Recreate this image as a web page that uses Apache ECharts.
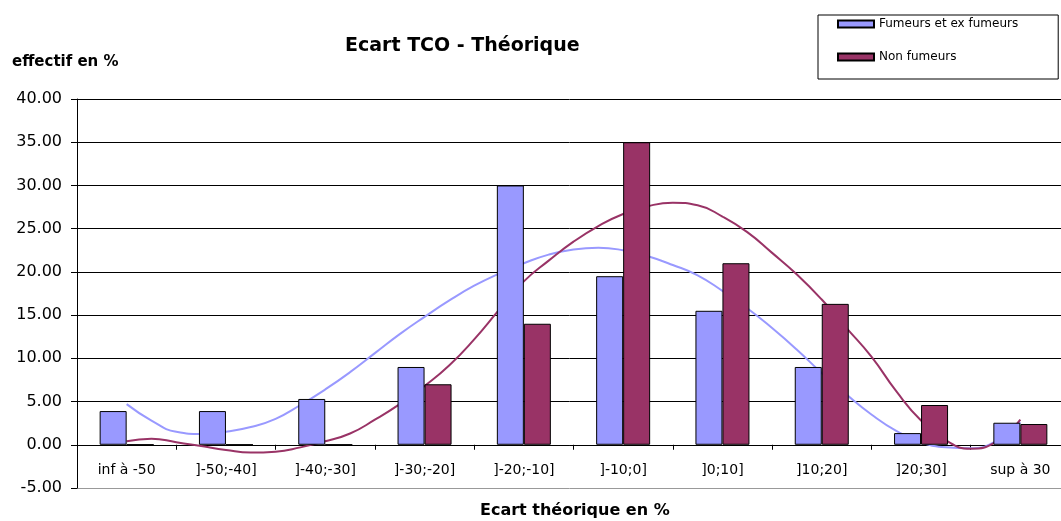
<!DOCTYPE html>
<html>
<head>
<meta charset="utf-8">
<script src="https://cdn.jsdelivr.net/npm/echarts@6/dist/echarts.min.js"></script>
<style>
  html, body { margin: 0; padding: 0; background: #fff; }
  #chart { width: 1061px; height: 521px; }
</style>
</head>
<body>
<div id="chart"></div>
<script>
// classes d'écart
const categories = ['inf à -50', ']-50;-40]', ']-40;-30]', ']-30;-20]', ']-20;-10]', ']-10;0]', ']0;10]', ']10;20]', ']20;30]', 'sup à 30'];
const fumeurs = [3.9, 3.9, 5.3, 9.0, 30.0, 19.5, 15.5, 9.0, 1.35, 2.55];
const nonFumeurs = [0, 0, 0, 7.0, 14.0, 35.0, 21.0, 16.3, 4.6, 2.4];

// courbes de tendance (position en unités de classe)
const trendX = [0.5, 0.75, 1, 1.25, 1.5, 1.75, 2, 2.25, 2.5, 2.75, 3, 3.25, 3.5, 3.75, 4, 4.25, 4.5, 4.75, 5,
  5.25, 5.5, 5.75, 6, 6.25, 6.5, 6.75, 7, 7.25, 7.5, 7.75, 8, 8.25, 8.5, 8.75, 9, 9.25, 9.5];
const trendFumeurs = [4.7, 2.8, 1.5, 1.25, 1.5, 2.05, 3.0, 4.6, 6.4, 8.4, 10.6, 12.8, 14.8, 16.7, 18.4, 19.8, 21.0, 22.0, 22.6,
  22.8, 22.5, 21.8, 20.8, 19.6, 17.8, 15.8, 13.5, 11.0, 8.3, 5.8, 3.5, 1.6, 0.3, -0.3, -0.4, 0.4, 2.6];
const trendNonFumeurs = [0.4, 0.7, 0.3, -0.15, -0.6, -0.9, -0.8, -0.3, 0.4, 1.3, 2.9, 4.7, 6.8, 9.2, 12.2, 15.6, 18.9, 21.3, 23.5,
  25.3, 26.7, 27.6, 28.0, 27.7, 26.4, 24.6, 22.2, 19.7, 16.8, 13.5, 10.2, 6.2, 2.8, 0.5, -0.45, 0.3, 2.9];

const font = 'DejaVu Sans';
const blue = '#9999ff';
const red = '#993366';

const pairs = (xs, ys) => xs.map((x, i) => [x, ys[i]]);

const option = {
  animation: false,
  backgroundColor: '#fff',
  textStyle: { fontFamily: font, color: '#000' },
  title: [
    {
      text: 'Ecart TCO - Théorique',
      left: 345,
      top: 37,
      padding: 0,
      textStyle: { fontFamily: font, fontSize: 19, fontWeight: 'bold', color: '#000' },
    },
    {
      text: 'effectif en %',
      left: 12,
      top: 55,
      padding: 0,
      textStyle: { fontFamily: font, fontSize: 15, fontWeight: 'bold', color: '#000' },
    },
    {
      text: 'Ecart théorique en %',
      left: 480,
      top: 503,
      padding: 0,
      textStyle: { fontFamily: font, fontSize: 16, fontWeight: 'bold', color: '#000' },
    },
  ],
  legend: {
    data: ['Fumeurs et ex fumeurs', 'Non fumeurs'],
    orient: 'vertical',
    left: 818,
    top: 15,
    padding: [3, 40, 16, 19],
    itemGap: 21,
    itemWidth: 36,
    itemHeight: 7,
    icon: 'rect',
    borderColor: '#000',
    borderWidth: 1,
    backgroundColor: '#fff',
    textStyle: { fontFamily: font, fontSize: 12, color: '#000' },
  },
  grid: {
    left: 77,
    top: 99,
    width: 993,
    height: 389,
    outerBoundsMode: 'none',
    containLabel: false,
  },
  xAxis: [
    {
      type: 'category',
      data: categories,
      axisLine: { onZero: true, lineStyle: { color: '#000', width: 1 } },
      axisTick: { show: true, length: 5, lineStyle: { color: '#000' } },
      axisLabel: { fontFamily: font, fontSize: 14, color: '#000', margin: -25, interval: 0 },
    },
    {
      type: 'value',
      show: false,
      min: 0,
      max: 10,
      position: 'top',
    },
  ],
  yAxis: {
    type: 'value',
    min: -5,
    max: 40,
    interval: 5,
    axisLine: { show: true, lineStyle: { color: '#000' } },
    axisTick: { show: true, length: 6, lineStyle: { color: '#000' } },
    axisLabel: {
      fontFamily: font,
      fontSize: 16,
      color: '#000',
      margin: 15,
      formatter: v => v.toFixed(2),
    },
    splitLine: {
      show: true,
      lineStyle: {
        color: ['#999', '#000', '#000', '#000', '#000', '#000', '#000', '#000', '#000', '#000'],
        width: 1,
      },
    },
  },
  series: [
    {
      name: 'Tendance fumeurs',
      type: 'line',
      xAxisIndex: 1,
      z: 1,
      smooth: true,
      symbol: 'none',
      lineStyle: { color: blue, width: 2 },
      data: pairs(trendX, trendFumeurs),
    },
    {
      name: 'Tendance non fumeurs',
      type: 'line',
      xAxisIndex: 1,
      z: 1,
      smooth: true,
      symbol: 'none',
      lineStyle: { color: red, width: 2 },
      data: pairs(trendX, trendNonFumeurs),
    },
    {
      name: 'Fumeurs et ex fumeurs',
      type: 'bar',
      z: 2,
      barWidth: 27,
      barGap: '0%',
      itemStyle: { color: blue, borderColor: '#000', borderWidth: 1 },
      data: fumeurs,
    },
    {
      name: 'Non fumeurs',
      type: 'bar',
      z: 2,
      barWidth: 27,
      barGap: '0%',
      itemStyle: { color: red, borderColor: '#000', borderWidth: 1 },
      data: nonFumeurs,
    },
  ],
};

const myChart = echarts.init(document.getElementById('chart'));
myChart.setOption(option);
</script>
</body>
</html>
